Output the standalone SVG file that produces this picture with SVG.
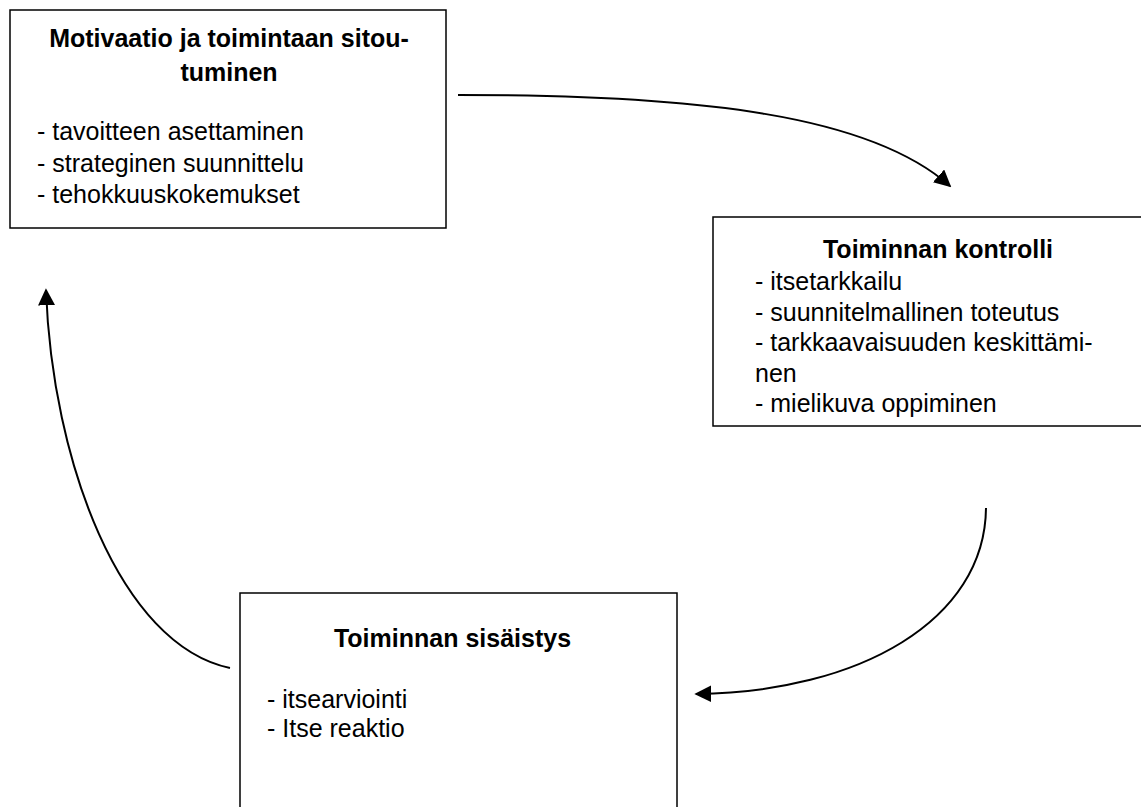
<svg xmlns="http://www.w3.org/2000/svg" width="1141" height="807" viewBox="0 0 1141 807">
<defs>
<style>
.box{fill:#fff;stroke:#000;stroke-width:1.5}
.t{font-family:"Liberation Sans",Arial,sans-serif;font-size:25px;fill:#000}
.b{font-weight:bold;text-anchor:middle}
.c{fill:none;stroke:#000;stroke-width:2}
</style>
<marker id="ah" viewBox="0 0 10 10" refX="9" refY="5" markerWidth="17" markerHeight="17" markerUnits="userSpaceOnUse" orient="auto">
<path d="M0,0 L10,5 L0,10 Z" fill="#000"/>
</marker>
</defs>
<rect width="1141" height="807" fill="#fff"/>
<g id="connectors">
<path class="c" d="M458,95 C700,95 870,115 950,186" marker-end="url(#ah)"/>
<path class="c" d="M986,508 C985,620 860,692 696,694" marker-end="url(#ah)"/>
<path class="c" d="M230,668 C120,645 52,460 46,290" marker-end="url(#ah)"/>
</g>
<g id="node-motivaatio">
<rect class="box" x="10" y="10" width="436" height="218"/>
<text class="t b" x="229" y="47">Motivaatio ja toimintaan sitou-</text>
<text class="t b" x="229" y="81">tuminen</text>
<text class="t" x="37" y="140">- tavoitteen asettaminen</text>
<text class="t" x="37" y="171.5">- strateginen suunnittelu</text>
<text class="t" x="37" y="203">- tehokkuuskokemukset</text>
</g>
<g id="node-kontrolli">
<rect class="box" x="713" y="217" width="440" height="209"/>
<text class="t b" x="938" y="258">Toiminnan kontrolli</text>
<text class="t" x="755" y="290">- itsetarkkailu</text>
<text class="t" x="755" y="320.5">- suunnitelmallinen toteutus</text>
<text class="t" x="755" y="351">- tarkkaavaisuuden keskittämi-</text>
<text class="t" x="755" y="381.5">nen</text>
<text class="t" x="755" y="412">- mielikuva oppiminen</text>
</g>
<g id="node-sisaistys">
<rect class="box" x="240" y="593" width="437" height="240"/>
<text class="t b" x="452.5" y="647">Toiminnan sisäistys</text>
<text class="t" x="267" y="708">- itsearviointi</text>
<text class="t" x="267" y="737">- Itse reaktio</text>
</g>
</svg>
